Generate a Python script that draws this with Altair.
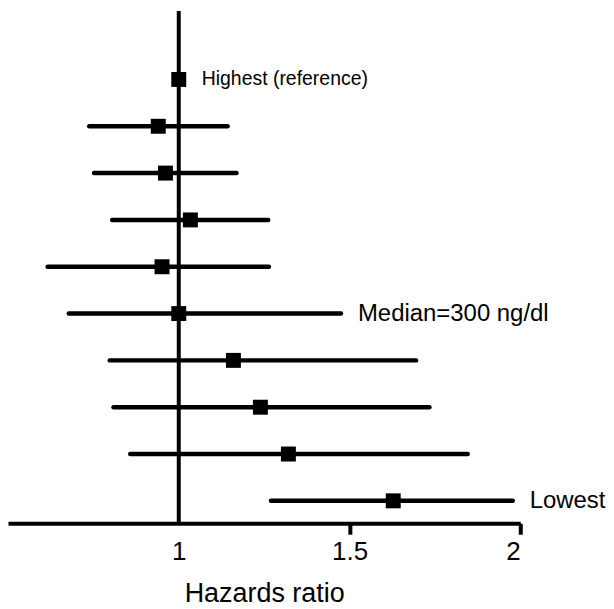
import altair as alt
import pandas as pd

# ---- data ----
rows = [1, 2, 3, 4, 5, 6, 7, 8, 9, 10]
hr = [1.0, 0.940, 0.961, 1.034, 0.951, 1.0, 1.160, 1.239, 1.321, 1.628]
lo = [1.0, 0.738, 0.752, 0.805, 0.616, 0.678, 0.798, 0.809, 0.858, 1.270]
hi = [1.0, 1.143, 1.169, 1.262, 1.264, 1.475, 1.695, 1.734, 1.846, 1.978]
labels = ["Highest (reference)", "", "", "", "", "Median=300 ng/dl", "", "", "", "Lowest"]
tick_values = [1, 1.5, 2]
ref_value = 1

df = pd.DataFrame({"row": rows, "hr": hr, "lo": lo, "hi": hi, "label": labels})

FONT = "Liberation Sans"
W, H = 514, 514

xscale = alt.Scale(domain=[0.5, 2.0], nice=False, zero=False)
yscale = alt.Scale(domain=[-0.462, 10.479], reverse=True, nice=False, zero=False)

x_axis = alt.Axis(
    values=tick_values, format="~g", title="Hazards ratio",
    domainColor="black", domainWidth=4,
    tickColor="black", tickWidth=4, tickSize=11,
    tickOpacity={"condition": {"test": "datum.value === 1", "value": 0}, "value": 1},
    labelFont=FONT, labelFontSize=26, labelColor="black", labelPadding=4,
    titleFont=FONT, titleFontSize=27, titleFontWeight="normal", titleColor="black",
    titlePadding=16, grid=False,
)

base = alt.Chart(df)

ci = base.transform_filter("datum.lo != datum.hi").mark_rule(
    color="black", strokeWidth=4.5, strokeCap="round"
).encode(
    x=alt.X("lo:Q", scale=xscale, axis=x_axis),
    x2="hi:Q",
    y=alt.Y("row:Q", scale=yscale, axis=None),
)

ref = alt.Chart(pd.DataFrame({"x": [ref_value]})).mark_rule(
    color="black", strokeWidth=4
).encode(
    x=alt.X("x:Q", scale=xscale),
    y=alt.value(0),
    y2=alt.value(H),
)

pts = base.mark_square(color="black", filled=True, opacity=1, size=225).encode(
    x=alt.X("hr:Q", scale=xscale),
    y=alt.Y("row:Q", scale=yscale),
)

txt_ref = base.transform_filter("datum.row == 1").mark_text(
    align="left", baseline="middle", font=FONT, fontSize=19.5, color="black", dx=23
).encode(
    x=alt.X("hi:Q", scale=xscale),
    y=alt.Y("row:Q", scale=yscale),
    text="label:N",
)

txt_other = base.transform_filter("datum.row != 1 && datum.label != ''").mark_text(
    align="left", baseline="middle", font=FONT, fontSize=24, color="black", dx=17
).encode(
    x=alt.X("hi:Q", scale=xscale),
    y=alt.Y("row:Q", scale=yscale),
    text="label:N",
)

chart = alt.layer(ci, ref, pts, txt_ref, txt_other).properties(
    width=W, height=H, background="white", padding=0
).configure_view(stroke=None)

chart.save("out.html", embed_options={"renderer": "svg", "actions": False})
